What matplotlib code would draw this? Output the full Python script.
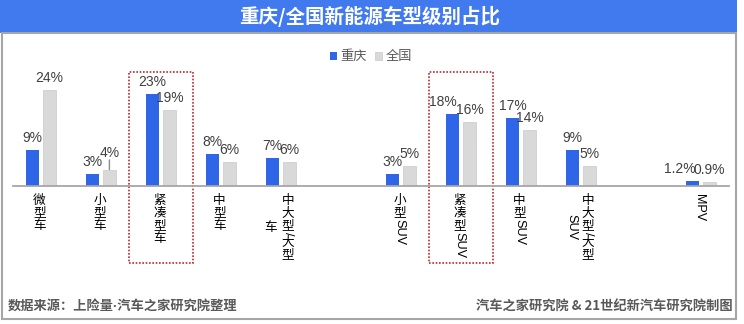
import numpy as np
import matplotlib.pyplot as plt
from matplotlib.patches import Rectangle

# category slots (empty strings are spacer slots between groups)
categories = ["微型车", "小型车", "紧凑型车", "中型车", "中大型/大型车", "",
              "小型SUV", "紧凑型SUV", "中型SUV", "中大型/大型SUV", "", "MPV"]
chongqing = [9, 3, 23, 8, 7, np.nan, 3, 18, 17, 9, np.nan, 1.2]
national = [24, 4, 19, 6, 6, np.nan, 5, 16, 14, 5, np.nan, 0.9]
series_names = ["重庆", "全国"]
highlight = ["紧凑型车", "紧凑型SUV"]

title = "重庆/全国新能源车型级别占比"
source_left = "数据来源：上险量·汽车之家研究院整理"
source_right = "汽车之家研究院 & 21世纪新汽车研究院制图"

CJK = "Noto Sans CJK SC"
LAT = "Liberation Sans"
BLUE = "#2f66e8"
GRAY = "#d9d9d9"
TXT = "#404040"

W, H, DPI = 744, 324, 100
fig = plt.figure(figsize=(W / DPI, H / DPI), dpi=DPI)
fig.patch.set_facecolor("white")


def fx(px):
    return px / W


def fy(py):
    # pixel measured from top -> figure fraction
    return 1 - py / H


# header band and outer frame
fig.add_artist(Rectangle((0, fy(33)), fx(737), 33 / H, transform=fig.transFigure,
                         facecolor="#4179ef", edgecolor="none"))
fig.add_artist(Rectangle((fx(1.5), fy(319)), fx(735.5 - 1.5), (319 - 33) / H,
                         transform=fig.transFigure, fill=False,
                         edgecolor="#a6a6a6", lw=1.5))
fig.text(fx(370), fy(16.5), title, ha="center", va="center", color="white",
         fontsize=14, fontweight="bold", family=CJK)
fig.text(fx(8), fy(307), source_left, ha="left", va="center", color="#595959",
         fontsize=9.5, fontweight="bold", family=[LAT, CJK])
fig.text(fx(733), fy(307), source_right, ha="right", va="center", color="#595959",
         fontsize=9.5, fontweight="bold", family=[CJK, "DejaVu Sans"])

# plotting area: baseline at y=185.6px, 4 px per percent
base_py, top_py = 185.6, 40
ax = fig.add_axes([fx(13), (H - base_py) / H, fx(729 - 13), (base_py - top_py) / H])
ax.set_xlim(-0.467, 11.467)
ax.set_ylim(0, (base_py - top_py) / 4.0)
for s in ["left", "right", "top"]:
    ax.spines[s].set_visible(False)
ax.spines["bottom"].set_color("#a6a6a6")
ax.spines["bottom"].set_linewidth(1.3)
ax.set_xticks([])
ax.set_yticks([])
ax.patch.set_alpha(0)

x = np.arange(len(categories))
off, bw = 0.14, 0.225
b1 = ax.bar(x - off, chongqing, width=bw, color=BLUE, label=series_names[0])
b2 = ax.bar(x + off, national, width=bw, color=GRAY, edgecolor="#c9c9c9",
            lw=0.5, label=series_names[1])

# value labels; a few are nudged sideways so neighbours don't collide,
# the small 小型车 national value is lifted with a leader line
nudge = {(0, "紧凑型SUV"): -7, (0, "MPV"): -9}
for si, (xs, vals) in enumerate([(x - off, chongqing), (x + off, national)]):
    for ci, (xi, v) in enumerate(zip(xs, vals)):
        if np.isnan(v):
            continue
        cat = categories[ci]
        if si == 1 and cat == "小型车":
            ax.annotate(f"{v:g}%", (xi, v), xytext=(0, 7), textcoords="offset points",
                        ha="center", va="bottom", fontsize=10, color=TXT, family=LAT)
            ax.annotate("", (xi, v), xytext=(0, 7), textcoords="offset points",
                        arrowprops=dict(arrowstyle="-", color="#8c8c8c", lw=1,
                                        shrinkA=0, shrinkB=0))
        else:
            ax.annotate(f"{v:g}%", (xi, v), xytext=(nudge.get((si, cat), 0), 3.5),
                        textcoords="offset points", ha="center", va="bottom",
                        fontsize=10, color=TXT, family=LAT)

ax.legend(handles=[b1, b2], loc="upper center", bbox_to_anchor=(0.5, 1.01),
          ncol=2, frameon=False, prop={"family": CJK, "size": 9.5},
          labelcolor="#595959", handlelength=0.55, handleheight=0.55,
          handletextpad=0.25, columnspacing=0.6)

# dotted boxes around highlighted groups
px_per_pct = 4.0
for name in highlight:
    i = categories.index(name)
    y0 = -(263 - base_py) / px_per_pct
    y1 = (base_py - 72) / px_per_pct
    ax.add_patch(Rectangle((i - 0.535, y0), 1.07, y1 - y0, fill=False,
                           edgecolor="#c0282d", lw=1.2, linestyle=(0, (1, 1)),
                           clip_on=False))

# vertical category labels: CJK glyphs upright, latin runs turned
renderer = fig.canvas.get_renderer()
lab_fs = 9.1
cjk_adv = lab_fs * DPI / 72
col_gap = 17
wrap_px = 72


def run_list(s):
    runs = []
    for ch in s:
        upright = ord(ch) > 0x2e80
        if runs and not upright and not runs[-1][1]:
            runs[-1][0] += ch
        else:
            runs.append([ch, upright])
    for r in runs:
        if r[1]:
            r.append(cjk_adv)
        else:
            t = fig.text(0, 0, r[0], fontsize=lab_fs, family=LAT)
            r.append(t.get_window_extent(renderer).width)
            t.remove()
    return runs


for i, name in enumerate(categories):
    if not name:
        continue
    cols, cur, length = [], [], 0
    for r in run_list(name):
        if cur and length + r[2] > wrap_px:
            cols.append(cur)
            cur, length = [], 0
        cur.append(r)
        length += r[2]
    cols.append(cur)
    lens = [sum(r[2] for r in c) for c in cols]
    yc = 194 + max(lens) / 2
    xc = ax.transData.transform((i, 0))[0] - 1.5
    n = len(cols)
    for k, (c, L) in enumerate(zip(cols, lens)):
        cx = xc + (n - 1) / 2 * col_gap - k * col_gap
        y = yc - L / 2
        for text, upright, adv in c:
            if upright:
                fig.text(fx(cx), fy(y + adv / 2), text, ha="center", va="center",
                         fontsize=lab_fs, family=CJK, color="black")
            else:
                fig.text(fx(cx), fy(y + adv / 2), text, ha="center", va="center",
                         rotation=-90, fontsize=lab_fs, family=LAT, color="black")
            y += adv

fig.savefig("out.png", dpi=DPI)
